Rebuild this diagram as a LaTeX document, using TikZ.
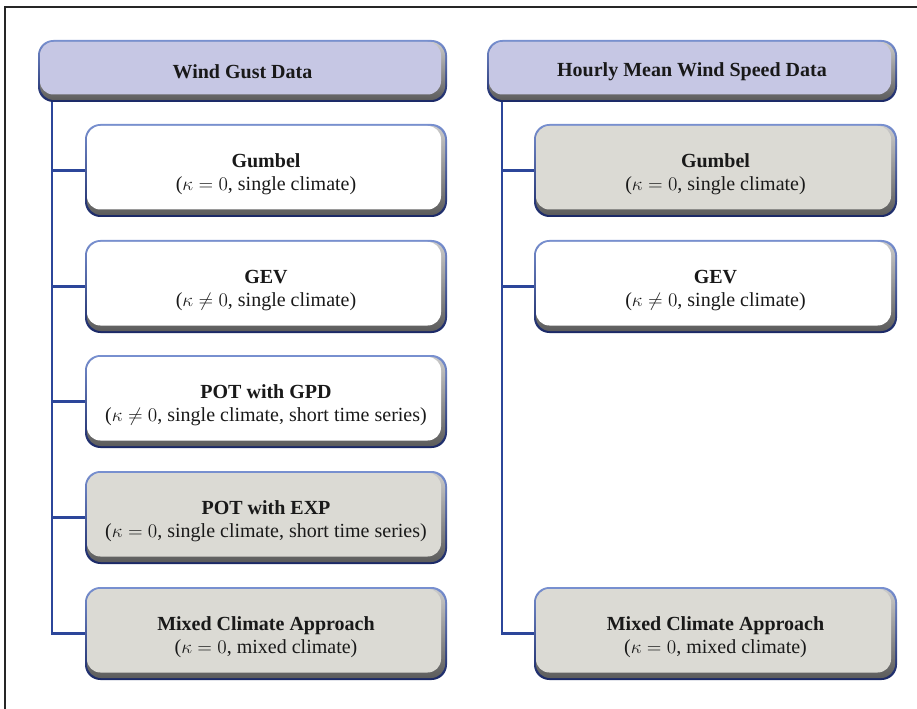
\documentclass[tikz,border=0pt]{standalone}
\usepackage{fontspec}
\setmainfont{Liberation Serif}
\usetikzlibrary{calc}
\definecolor{bordtop}{HTML}{7890D0}
\definecolor{bordbot}{HTML}{1A2866}
\definecolor{hdrfill}{HTML}{C6C7E4}
\definecolor{grayfill}{HTML}{DBDAD4}
\definecolor{connc}{HTML}{2C469A}
\definecolor{shtop}{HTML}{CACACA}
\definecolor{shbot}{HTML}{5C5C5C}
\tikzset{
  boxtext/.style={align=center, inner sep=0pt, text=black!90,
    font=\fontsize{15}{17.5}\selectfont},
  boxshape/.style={inner sep=0pt},
  connline/.style={draw=connc, line width=1.6pt},
  frameline/.style={draw=black!85, line width=1.1pt}
}
% #1 name, #2-#5 corners, #6 fill, #7 text, #8 text offset
\newcommand{\fbx}[8]{%
  \shade[rounded corners=11.5pt, top color=bordtop, bottom color=bordbot] (#2,#3) rectangle (#4,#5);
  \shade[rounded corners=10.5pt, top color=shtop, bottom color=shbot] ({#2+2},{#3+2}) rectangle ({#4-2},{#5-2});
  \fill[#6, rounded corners=10pt] ({#2+2},{#3+2}) rectangle ({#4-6},{#5-7.5});
  \node[boxshape, minimum width={(#4-#2)*0.75pt}, minimum height={(#5-#3)*0.75pt}] (#1) at ({(#2+#4)/2},{(#3+#5)/2}) {};
  \node[boxtext] (#1-text) at ($(#1.center)+(0,#8)$) {#7};
}
\begin{document}
\begin{tikzpicture}[x=0.75pt,y=-0.75pt]
\useasboundingbox (0,0) rectangle (917,709);
\fill[white] (0,0) rectangle (917,709);
\draw[frameline] (5,709) -- (5,7) -- (917,7);

% headers
\fbx{hL}{38}{40}{447}{102}{hdrfill}{\textbf{Wind Gust Data}}{1}
\fbx{hR}{487}{40}{897}{102}{hdrfill}{\textbf{Hourly Mean Wind Speed Data}}{1}

% left column
\fbx{gumL}{85}{124}{447}{217}{white}{\textbf{Gumbel}\\($\kappa = 0$, single climate)}{4}
\fbx{gevL}{85}{240}{447}{333}{white}{\textbf{GEV}\\($\kappa \neq 0$, single climate)}{4}
\fbx{gpdL}{85}{355}{447}{448}{white}{\textbf{POT with GPD}\\($\kappa \neq 0$, single climate, short time series)}{4}
\fbx{expL}{85}{471}{447}{564}{grayfill}{\textbf{POT with EXP}\\($\kappa = 0$, single climate, short time series)}{4}
\fbx{mixL}{85}{587}{447}{680}{grayfill}{\textbf{Mixed Climate Approach}\\($\kappa = 0$, mixed climate)}{4}

% right column
\fbx{gumR}{534}{124}{897}{217}{grayfill}{\textbf{Gumbel}\\($\kappa = 0$, single climate)}{4}
\fbx{gevR}{534}{240}{897}{333}{white}{\textbf{GEV}\\($\kappa \neq 0$, single climate)}{4}
\fbx{mixR}{534}{587}{897}{680}{grayfill}{\textbf{Mixed Climate Approach}\\($\kappa = 0$, mixed climate)}{4}

% connectors
\coordinate (tL) at (52,102);
\coordinate (tR) at (502,102);
\draw[connline] (tL) |- (mixL.west);
\draw[connline] (gumL.west) -- (gumL.west -| tL);
\draw[connline] (gevL.west) -- (gevL.west -| tL);
\draw[connline] (gpdL.west) -- (gpdL.west -| tL);
\draw[connline] (expL.west) -- (expL.west -| tL);
\draw[connline] (tR) |- (mixR.west);
\draw[connline] (gumR.west) -- (gumR.west -| tR);
\draw[connline] (gevR.west) -- (gevR.west -| tR);
\end{tikzpicture}
\end{document}
